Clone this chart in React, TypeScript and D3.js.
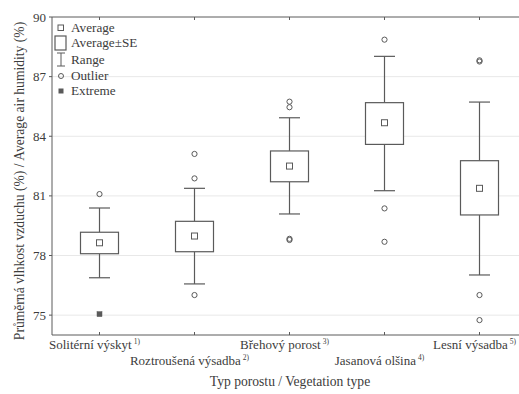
import React from "react";
import * as d3 from "d3";

const categories = [
  "Solitérní výskyt",
  "Roztroušená výsadba",
  "Břehový porost",
  "Jasanová olšina",
  "Lesní výsadba",
];
const footnotes = ["1)", "2)", "3)", "4)", "5)"];
const means = [78.64, 78.98, 82.5, 84.68, 81.38];
const seLow = [78.09, 78.19, 81.71, 83.59, 80.04];
const seHigh = [79.17, 79.72, 83.26, 85.69, 82.77];
const rangeLow = [76.88, 76.57, 80.09, 81.26, 77.02];
const rangeHigh = [80.39, 81.38, 84.93, 88.02, 85.72];
const outliers = [
  [81.09],
  [76.01, 81.88, 83.11],
  [78.84, 78.78, 85.46, 85.74],
  [78.69, 80.37, 88.86],
  [74.75, 76.01, 87.76, 87.82],
];
const extremes = [[75.05], [], [], [], []];
const yTicks = [75, 78, 81, 84, 87, 90];

const W = 519;
const H = 394;
const M = { left: 52, right: 527, top: 17, bottom: 335 };
const LINE = "#5a5a5a";
const TEXT = "#3c3c3c";
const FONT = "'Liberation Serif', 'Times New Roman', serif";
// category labels are centred as if the footnote mark were full size
const LABEL_SHIFT = -5;

export default function App() {
  const x = d3.scaleBand<string>().domain(categories).range([M.left, M.right]).padding(0);
  const y = d3.scaleLinear().domain([74, 90]).range([M.bottom, M.top]);
  const cx = (c: string) => (x(c) as number) + x.bandwidth() / 2;
  const boxW = 38;
  const capW = 21;
  const meanS = 6;

  return (
    <svg width={W} height={H} style={{ position: "absolute", left: 0, top: 0, fontFamily: FONT }}>
      <rect width={W} height={H} fill="#fff" />
      {/* grid */}
      {yTicks.filter((t) => t < 90).map((t) => (
        <line key={t} x1={M.left} x2={W} y1={y(t)} y2={y(t)} stroke="#e8e8e8" strokeWidth={1} />
      ))}
      {/* frame */}
      <line x1={M.left} x2={W} y1={M.top} y2={M.top} stroke={LINE} strokeWidth={1} />
      <line x1={M.left} x2={W} y1={M.bottom} y2={M.bottom} stroke={LINE} strokeWidth={1} />
      <line x1={M.left} x2={M.left} y1={M.top} y2={M.bottom} stroke={LINE} strokeWidth={1} />
      {/* y ticks */}
      {yTicks.map((t) => (
        <g key={t}>
          <line x1={M.left - 3} x2={M.left} y1={y(t)} y2={y(t)} stroke={LINE} />
          <text x={M.left - 6} y={y(t)} dy="0.35em" textAnchor="end" fontSize={13} fill={TEXT}>
            {t}
          </text>
        </g>
      ))}
      {/* x ticks and labels */}
      {categories.map((c, i) => (
        <g key={c}>
          <line x1={cx(c)} x2={cx(c)} y1={M.bottom} y2={M.bottom - 3} stroke={LINE} />
          <line x1={cx(c)} x2={cx(c)} y1={M.top} y2={M.top + 3} stroke={LINE} />
          <text
            x={cx(c) + LABEL_SHIFT}
            y={i % 2 === 0 ? 349 : 365}
            textAnchor="middle"
            fontSize={13}
            fill={TEXT}
          >
            {c}
            <tspan fontSize={7.5} dx={2} dy={-5}>{footnotes[i]}</tspan>
          </text>
        </g>
      ))}
      {/* boxes */}
      {categories.map((c, i) => {
        const xc = cx(c);
        return (
          <g key={c} stroke={LINE} fill="none" strokeWidth={1.2}>
            <line x1={xc} x2={xc} y1={y(seHigh[i])} y2={y(rangeHigh[i])} />
            <line x1={xc} x2={xc} y1={y(seLow[i])} y2={y(rangeLow[i])} />
            <line x1={xc - capW / 2} x2={xc + capW / 2} y1={y(rangeHigh[i])} y2={y(rangeHigh[i])} />
            <line x1={xc - capW / 2} x2={xc + capW / 2} y1={y(rangeLow[i])} y2={y(rangeLow[i])} />
            <rect x={xc - boxW / 2} y={y(seHigh[i])} width={boxW} height={y(seLow[i]) - y(seHigh[i])} fill="#fff" />
            <rect x={xc - meanS / 2} y={y(means[i]) - meanS / 2} width={meanS} height={meanS} strokeWidth={1} />
            {outliers[i].map((v, k) => (
              <circle key={k} cx={xc} cy={y(v)} r={2.6} strokeWidth={1} />
            ))}
            {extremes[i].map((v, k) => (
              <rect key={k} x={xc - 2.5} y={y(v) - 2.5} width={5} height={5} fill={LINE} strokeWidth={0.5} />
            ))}
          </g>
        );
      })}
      {/* legend */}
      <g stroke={LINE} fill="none" strokeWidth={1}>
        <rect x={58} y={25} width={5.5} height={5.5} />
        <rect x={55} y={36} width={11} height={14} strokeWidth={1.2} />
        <line x1={61} x2={61} y1={53} y2={66} />
        <line x1={57} x2={65} y1={53} y2={53} />
        <line x1={57} x2={65} y1={66} y2={66} />
        <circle cx={61} cy={76} r={2.5} />
        <rect x={59} y={89} width={4} height={4} fill={LINE} />
      </g>
      <g fontSize={13.2} fill={TEXT}>
        <text x={71} y={32}>Average</text>
        <text x={71} y={47}>Average±SE</text>
        <text x={71} y={64}>Range</text>
        <text x={71} y={80}>Outlier</text>
        <text x={71} y={95}>Extreme</text>
      </g>
      {/* axis titles */}
      <text x={290} y={386} textAnchor="middle" fontSize={13.6} fill={TEXT}>
        Typ porostu / Vegetation type
      </text>
      <text
        transform={`translate(24, 181) rotate(-90)`}
        textAnchor="middle"
        fontSize={13.6}
        fill={TEXT}
      >
        Průměrná vlhkost vzduchu (%) / Average air humidity (%)
      </text>
    </svg>
  );
}
